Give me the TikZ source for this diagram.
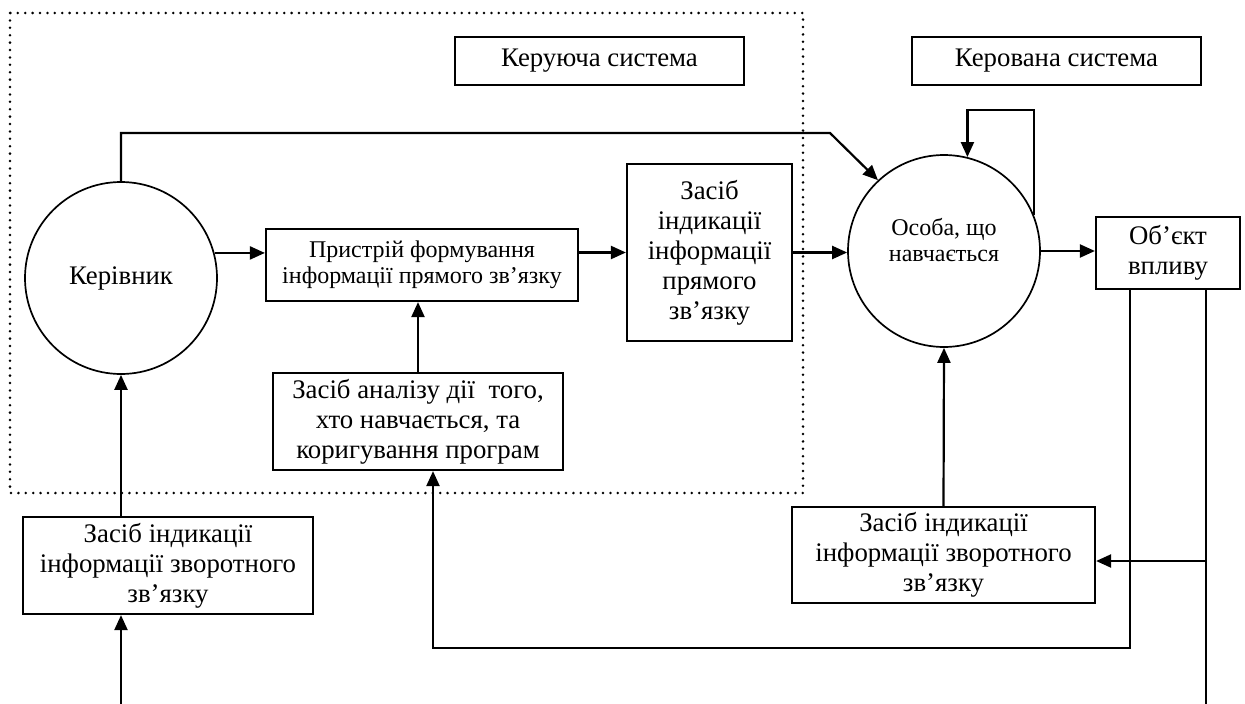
\documentclass[tikz,border=0pt]{standalone}
\usepackage{fontspec}
\setmainfont{Liberation Serif}
\usetikzlibrary{arrows.meta}
\newcommand{\bigtxt}{\fontsize{26.8pt}{30pt}\selectfont}
\newcommand{\smalltxt}{\fontsize{24pt}{25.5pt}\selectfont}
\begin{document}
\begin{tikzpicture}[x=1pt,y=-1pt,line width=2.2pt,
  >={Triangle[length=15pt,width=13pt]},
  blok/.style={draw,rectangle,inner sep=0pt,align=center,font=\bigtxt},
  kolo/.style={draw,circle,line width=1.7pt,inner sep=0pt,minimum size=192pt,align=center,font=\bigtxt},
  pole/.style={line width=2.8pt,line cap=round,dash pattern=on 0pt off 7.4pt}]
\useasboundingbox (0,0) rectangle (1245,704);

\draw[pole] (10,13) rectangle (803,493);

\node[blok,minimum width=289pt,minimum height=48pt] (ctrl) at (599.5,61) {Керуюча система};
\node[blok,minimum width=289pt,minimum height=48pt] (ctrd) at (1056.5,61) {Керована система};

\node[kolo] (boss) at (121,278) {Керівник};
\node[kolo,label={[font=\smalltxt,align=center,yshift=11pt]center:Особа, що\\навчається}] (learner) at (944,251) {};

\node[blok,font=\smalltxt,minimum width=312pt,minimum height=72pt] (form) at (422,265)
  {Пристрій формування\\інформації прямого зв'язку};
\node[blok,minimum width=165pt,minimum height=177pt] (ind) at (709.5,252.5)
  {Засіб\\індикації\\інформації\\прямого\\зв’язку};
\node[blok,minimum width=144pt,minimum height=72pt] (obj) at (1168,253) {Об’єкт\\впливу};
\node[blok,minimum width=290pt,minimum height=97pt] (ana) at (418,421.5)
  {Засіб аналізу дії\ \ того,\\хто навчається, та\\коригування програм};
\node[blok,minimum width=290pt,minimum height=97pt] (fbl) at (168,565.5)
  {Засіб індикації\\інформації зворотного\\зв’язку};
\node[blok,minimum width=303pt,minimum height=96pt] (fbr) at (943.5,555)
  {Засіб індикації\\інформації зворотного\\зв’язку};

\coordinate (corner) at (830,133);
\coordinate (loop) at (1000,110);
\coordinate (in) at (121,704);
\coordinate (back) at (433,648);
\coordinate (out) at (1206,704);
\coordinate (tap) at (1206,561);

\draw[->] (boss.north) |- (corner) -- (learner.133);
\draw[->] (boss.15) -- (boss.15 -| form.west);
\draw[->] (form.east |- ind.west) -- (ind.west);
\draw[->] (ind.east) -- (ind.east -| learner.west);
\draw[->] (learner.east) -- (learner.east -| obj.west);
\draw[->] (learner.22) |- (loop) -| (learner.76);
\draw[->] (ana.north) -- (ana.north |- form.south);
\draw[->] (boss.south |- fbl.north) -- (boss.south);
\draw[->] (in) -- (in |- fbl.south);
\draw[->] (fbr.north) -- (learner.south);
\draw[->] ([xshift=-38pt]obj.south) |- (back) -- (back |- ana.south);
\draw ([xshift=38pt]obj.south) -- (out);
\draw[->] (tap) -- (tap -| fbr.east);

\end{tikzpicture}
\end{document}
